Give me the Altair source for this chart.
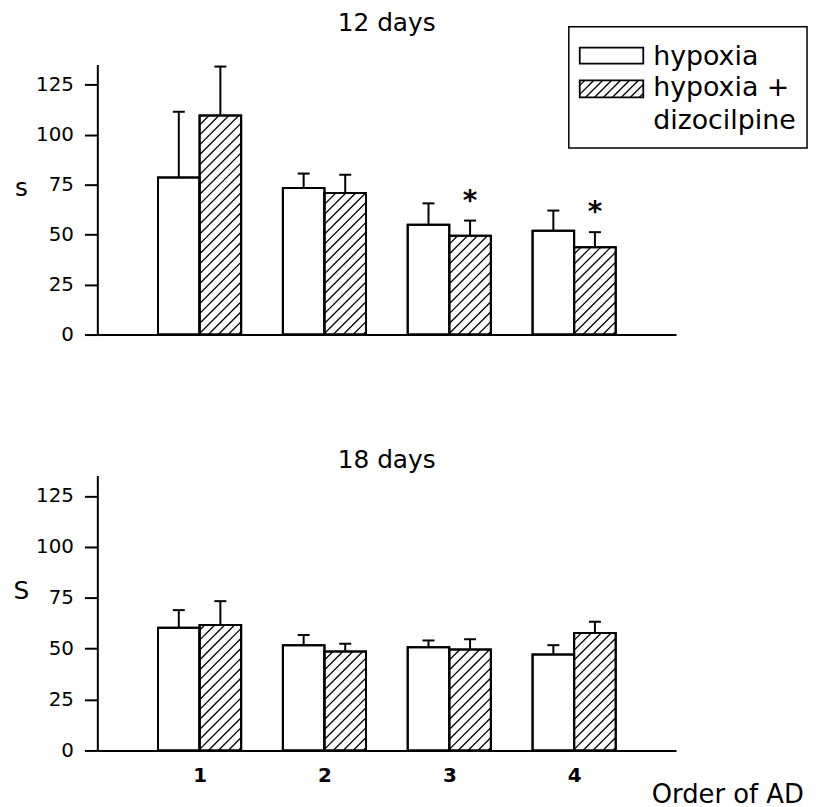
import altair as alt
import pandas as pd
import numpy as np

# ---------------- data ----------------
orders = [1, 2, 3, 4]

top_hyp = [78.5, 73.3, 54.9, 51.9]
top_hyp_sem = [32.9, 7.2, 10.7, 10.1]
top_dz = [109.5, 70.8, 49.4, 43.6]
top_dz_sem = [24.5, 9.1, 7.6, 7.6]
top_stars = [False, False, True, True]

bot_hyp = [60.3, 51.7, 50.7, 47.1]
bot_hyp_sem = [8.6, 5.0, 3.3, 4.6]
bot_dz = [61.6, 48.6, 49.6, 57.7]
bot_dz_sem = [11.7, 3.8, 5.0, 5.5]
bot_stars = [False, False, False, False]

y_ticks = [0, 25, 50, 75, 100, 125]
legend_labels = ["hypoxia", "hypoxia +", "dizocilpine"]

# ---------------- layout constants ----------------
FONT = "DejaVu Sans"
W = 583
XMIN, XMAX = 0.181, 4.816
YMAX = 135
BW = 0.333      # bar width in x units
CAP = 0.048     # half cap width in x units
HATCH_SP = 10   # hatch spacing (px, horizontal)


def long_table(hyp, hyp_sem, dz, dz_sem, stars):
    rows = []
    for i, g in enumerate(orders):
        rows.append(dict(order=g, group="hypoxia", x0=g - BW, x1=g, mean=hyp[i],
                         top=hyp[i] + hyp_sem[i], star=False))
        rows.append(dict(order=g, group="hypoxia + dizocilpine", x0=g, x1=g + BW, mean=dz[i],
                         top=dz[i] + dz_sem[i], star=stars[i]))
    df = pd.DataFrame(rows)
    df["c"] = (df.x0 + df.x1) / 2
    df["cl"] = df.c - CAP
    df["cr"] = df.c + CAP
    return df


def hatch_segments(df, H):
    ux = (XMAX - XMIN) / W      # data units per px (x)
    uy = YMAX / H               # data units per px (y)
    segs = []
    for _, r in df[df.group != "hypoxia"].iterrows():
        wpx = (r.x1 - r.x0) / ux
        hpx = r["mean"] / uy
        c = -wpx + 3
        while c < hpx:
            xa = max(0.0, -c)
            xb = min(wpx, hpx - c)
            if xb > xa:
                segs.append(dict(x0=r.x0 + xa * ux, x1=r.x0 + xb * ux,
                                 mean=(xa + c) * uy, top=(xb + c) * uy))
            c += HATCH_SP
    return pd.DataFrame(segs)


def panel(hyp, hyp_sem, dz, dz_sem, stars, H, title, title_y, ytitle, ytitle_y, bottom, legend):
    df = long_table(hyp, hyp_sem, dz, dz_sem, stars)
    hd = hatch_segments(df, H)
    xs = alt.Scale(domain=[XMIN, XMAX], nice=False, zero=False)
    ys = alt.Scale(domain=[0, YMAX], nice=False)

    if bottom:
        xaxis = alt.Axis(values=orders, ticks=False, grid=False, domainWidth=2,
                         domainColor="black", labelFontSize=20, labelFontWeight="bold",
                         labelPadding=15, labelColor="black", labelFont=FONT,
                         title="Order of AD", titleX=558, titleY=44, titleAlign="left",
                         titleBaseline="middle", titleFontSize=26, titleFontWeight="normal",
                         titleFont=FONT, titleColor="black", format="d")
    else:
        xaxis = alt.Axis(values=orders, ticks=False, labels=False, grid=False, domainWidth=2,
                         domainColor="black", title=None)
    yaxis = alt.Axis(values=y_ticks, grid=False, tickSize=13, tickWidth=2, tickColor="black",
                     domainWidth=2, domainColor="black", labelFontSize=20, labelPadding=11,
                     labelFont=FONT, labelColor="black",
                     title=ytitle, titleAngle=0, titleX=-77, titleY=ytitle_y,
                     titleAlign="center", titleBaseline="middle", titleFontSize=25,
                     titleFontWeight="normal", titleFont=FONT, titleColor="black")

    def X(f):
        return alt.X(f, type="quantitative", scale=xs, axis=xaxis)

    def Y(f):
        return alt.Y(f, type="quantitative", scale=ys, axis=yaxis)

    base = alt.Chart(df)
    bars = base.mark_bar(fill="white", stroke="black", strokeWidth=2).encode(
        x=X("x0"), x2="x1", y=Y("mean"), y2=alt.datum(0))
    hatch = alt.Chart(hd).mark_rule(color="black", strokeWidth=1.3).encode(
        x=X("x0"), x2="x1", y=Y("mean"), y2="top")
    outline = base.mark_bar(fillOpacity=0, stroke="black", strokeWidth=2).encode(
        x=X("x0"), x2="x1", y=Y("mean"), y2=alt.datum(0))
    stems = base.mark_rule(color="black", strokeWidth=2).encode(
        x=X("c"), y=Y("mean"), y2="top")
    caps = base.mark_rule(color="black", strokeWidth=2).encode(
        x=X("cl"), x2="cr", y=Y("top"))
    layers = [bars, hatch, outline, stems, caps]
    if any(stars):
        star = base.transform_filter("datum.star").mark_text(
            text="*", fontSize=28, fontWeight="bold", font=FONT, color="black",
            baseline="alphabetic", dy=-11).encode(x=X("c"), y=Y("top"))
        layers.append(star)

    one = pd.DataFrame({"k": [0]})
    lb = alt.Chart(one)
    # panel title
    layers.append(lb.mark_text(text=title, fontSize=25, font=FONT, color="black",
                               align="center", baseline="alphabetic").encode(
        x=alt.value(W / 2), y=alt.value(title_y)))

    if legend:
        # legend frame (pixel positions relative to plot area)
        layers.append(lb.mark_rect(fill="white", stroke="black", strokeWidth=1.5).encode(
            x=alt.value(475), x2=alt.value(715), y=alt.value(-38), y2=alt.value(84)))
        layers.append(lb.mark_rect(fill="white", stroke="black", strokeWidth=1.8).encode(
            x=alt.value(486), x2=alt.value(550), y=alt.value(-17), y2=alt.value(-1)))
        layers.append(lb.mark_rect(fill="white", stroke="black", strokeWidth=1.8).encode(
            x=alt.value(486), x2=alt.value(550), y=alt.value(16), y2=alt.value(33)))
        # hatch in legend swatch
        sx0, sx1, sy0, sy1 = 486, 550, 16, 33
        sw, sh = sx1 - sx0, sy1 - sy0
        c = -sw + 4
        while c < sh:
            xa = max(0, -c)
            xb = min(sw, sh - c)
            if xb > xa:
                layers.append(lb.mark_rule(color="black", strokeWidth=1.3).encode(
                    x=alt.value(sx0 + xa), x2=alt.value(sx0 + xb),
                    y=alt.value(sy1 - (xa + c)), y2=alt.value(sy1 - (xb + c))))
            c += 9
        for txt, yy in zip(legend_labels, [0, 32, 65]):
            layers.append(lb.mark_text(text=txt, fontSize=27, font=FONT, color="black",
                                       align="left", baseline="alphabetic").encode(
                x=alt.value(560), y=alt.value(yy)))

    return alt.layer(*layers).properties(width=W, height=H)


top = panel(top_hyp, top_hyp_sem, top_dz, top_dz_sem, top_stars, 272,
            "12 days", -34, "s", 124, False, True)
bot = panel(bot_hyp, bot_hyp_sem, bot_dz, bot_dz_sem, bot_stars, 277,
            "18 days", -8, "S", 116, True, False)

chart = alt.vconcat(top, bot, spacing=104).configure_view(stroke=None).properties(
    background="white", padding={"left": 5, "top": 0, "right": 5, "bottom": 0})

chart.save("out.html", embed_options={"renderer": "svg", "actions": False})
